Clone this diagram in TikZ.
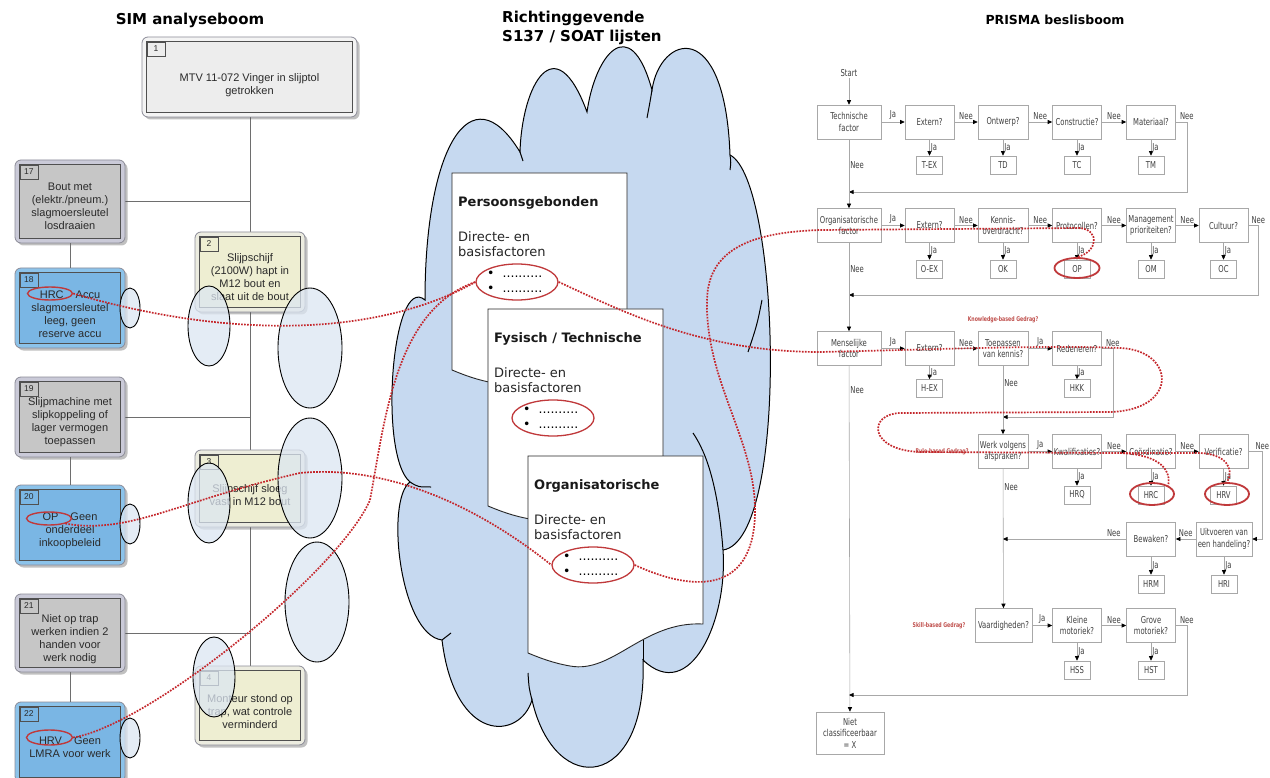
\documentclass[tikz,border=0pt]{standalone}
\usepackage{fontspec}
\setmainfont{DejaVu Sans}
\newfontfamily\arialf{Liberation Sans}
\newfontfamily\prismaf[FakeStretch=0.72]{DejaVu Sans}
\usetikzlibrary{shapes.geometric,arrows.meta,shadows}

% colours
\definecolor{simtext}{HTML}{2A2A2A}
\definecolor{frameedge}{HTML}{8C8C98}
\definecolor{inneredge}{HTML}{505050}
\definecolor{greyF}{HTML}{CACAD8}
\definecolor{greyI}{HTML}{C6C6C6}
\definecolor{blueF}{HTML}{8CC3EA}
\definecolor{blueI}{HTML}{7AB6E4}
\definecolor{yelF}{HTML}{ECECE0}
\definecolor{yelI}{HTML}{EEEED2}
\definecolor{litF}{HTML}{F4F4F4}
\definecolor{litI}{HTML}{EDEDED}
\definecolor{treeline}{HTML}{6E6E6E}
\definecolor{cloudblue}{HTML}{C6D9F0}
\definecolor{ellblue}{HTML}{DCE6F2}
\definecolor{ringred}{HTML}{C0393B}
\definecolor{dotred}{HTML}{C4262B}
\definecolor{pgray}{HTML}{A8A8A8}
\definecolor{ptext}{HTML}{404040}
\definecolor{gedragred}{HTML}{C0504D}

\tikzset{
  title/.style={font=\bfseries\fontsize{15}{19}\selectfont, text=black, inner sep=0},
  simframe/.style={draw=frameedge, line width=0.8pt, fill=#1F, rounded corners=6pt, inner sep=0,
    drop shadow={shadow xshift=2.5pt, shadow yshift=-2.5pt, opacity=0.35, fill=black!70}},
  siminner/.style={draw=inneredge, line width=0.8pt, fill=#1I},
  simnum/.style={draw=inneredge, line width=0.6pt, minimum width=18pt, minimum height=14pt,
    inner sep=1pt, font=\arialf\fontsize{8.5}{10}\selectfont, text=simtext},
  simtext/.style={font=\arialf\fontsize{11}{13}\selectfont, text=simtext, align=center, inner sep=0},
  treeedge/.style={draw=treeline, line width=0.8pt},
  cloudfill/.style={fill=cloudblue, draw=black, line width=1pt},
  cloudedge/.style={draw=black, line width=1pt},
  docline/.style={fill=white, draw=black!85, line width=0.9pt},
  doctitle/.style={font=\bfseries\fontsize{13}{15}\selectfont, text=black!90, anchor=west, inner sep=0},
  doctext/.style={font=\fontsize{13}{15.5}\selectfont, text=black!85, anchor=west, align=left, inner sep=0},
  docdots/.style={font=\fontsize{12.5}{15}\selectfont, text=black, anchor=west, align=left, inner sep=0},
  redring/.style={ellipse, draw=ringred, line width=1.3pt, inner sep=0, minimum width=82pt, minimum height=36pt},
  simring/.style={ellipse, draw=ringred, line width=1.4pt, inner sep=0},
  simell/.style={fill=ellblue, fill opacity=0.75, draw=black, line width=0.9pt},
  reddot/.style={draw=dotred, line width=1.7pt, dash pattern=on 1.7pt off 1.3pt},
  pbox/.style={draw=pgray, line width=0.6pt, fill=white, text=ptext, align=center, inner sep=1pt,
    font=\prismaf\fontsize{9.5}{11.5}\selectfont},
  qbox/.style={pbox, minimum width=49pt, minimum height=34pt},
  abox/.style={pbox, minimum width=26pt, minimum height=18pt},
  plbl/.style={font=\prismaf\fontsize{9.5}{10}\selectfont, text=ptext, inner sep=1pt},
  flow/.style={draw=pgray, line width=0.6pt, -{Triangle[length=4.5pt,width=4pt,black]}},
  gedrag/.style={font=\prismaf\bfseries\fontsize{6.5}{7}\selectfont, text=gedragred, inner sep=0},
}

% SIM tree box: name, colour scheme, x, y, width, height, number, text, text drop
\newcommand\simbox[9]{%
  \node[simframe=#2, minimum width=#5pt, minimum height=#6pt] (#1) at (#3,#4) {};
  \draw[siminner=#2] ([shift={(5pt,-5pt)}]#1.north west) rectangle ([shift={(-5pt,5pt)}]#1.south east);
  \node[simnum, anchor=north west] (#1n) at ([shift={(5pt,-5pt)}]#1.north west) {#7};
  \node[simtext] (#1t) at ([yshift=-#9pt]#1.center) {#8};
}

% list page with a wavy bottom edge: name, x, y, heading
\newcommand\docpage[4]{%
  \begin{scope}[shift={(#2,#3)}]
    \draw[docline] (0,0) -- (175,0) -- (175,168)
      .. controls (115,165) and (85,218) .. (42,210)
      .. controls (25,207) and (12,202) .. (0,197) -- cycle;
    \node[doctitle] (#1t) at (6,30) {#4};
    \node[doctext] (#1d) at (6,71) {Directe- en\\basisfactoren};
    \node[docdots] (#1l) at (35,108.5) {\textbullet\hspace{8pt}..........\\\textbullet\hspace{8pt}..........};
    \node[redring] (#1e) at (65,109) {};
  \end{scope}
}

\begin{document}
\begin{tikzpicture}[x=1pt, y=-1pt]
\useasboundingbox (0,0) rectangle (1270,778);
\clip (0,0) rectangle (1270,778);
\fill[white] (0,0) rectangle (1270,778);

% headings
\node[title] (h1) at (190,20) {SIM analyseboom};
\node[title, anchor=west, align=left] (h2) at (502,27.5) {Richtinggevende\\S137 / SOAT lijsten};
\node[title, font=\bfseries\fontsize{12.5}{15}\selectfont] (h3) at (1055,20) {PRISMA beslisboom};

% ---------------- SIM analysis tree ----------------
\coordinate (spine) at (250,117);
\coordinate (spineend) at (250,666);
\coordinate (c17) at (250,201.5);
\coordinate (c19) at (250,417);
\coordinate (c21) at (250,633);
\draw[treeedge] (spine) -- (spineend);
\draw[treeedge] (125,201.5) -- (c17);
\draw[treeedge] (125,417) -- (c19);
\draw[treeedge] (125,633) -- (c21);

\simbox{b1}{lit}{249.5}{77}{215}{80}{1}{MTV 11-072 Vinger in slijptol\\getrokken}{8}
\simbox{b17}{grey}{70}{201.5}{110}{83}{17}{Bout met\\(elektr./pneum.)\\slagmoersleutel\\losdraaien}{5}
\simbox{b2}{yel}{250}{272}{110}{80}{2}{Slijpschijf\\(2100W) hapt in\\M12 bout en\\slaat uit de bout}{5.5}
\simbox{b18}{blue}{70}{308}{110}{80}{18}{HRC\hspace{12pt}Accu\\slagmoersleutel\\leeg, geen\\reserve accu}{6.5}
\simbox{b19}{grey}{70}{417}{110}{80}{19}{Slijpmachine met\\slipkoppeling of\\lager vermogen\\toepassen}{5.5}
\simbox{b3}{yel}{250}{488.5}{110}{77}{3}{Slijpschijf sloeg\\vast in M12 bout}{6.5}
\simbox{b20}{blue}{70}{525}{110}{80}{20}{OP\hspace{12pt}Geen\\onderdeel\\inkoopbeleid}{6}
\simbox{b21}{grey}{70}{633}{110}{78}{21}{Niet op trap\\werken indien 2\\handen voor\\werk nodig}{6}
\simbox{b4}{yel}{250}{705.5}{110}{79}{4}{Monteur stond op\\trap, wat controle\\verminderd}{6.5}
\simbox{b22}{blue}{70}{742}{110}{80}{22}{HRV\hspace{12pt}Geen\\LMRA voor werk}{5}

\draw[treeedge] (b17.south) -- (b18.north);
\draw[treeedge] (b19.south) -- (b20.north);
\draw[treeedge] (b21.south) -- (b22.north);

% ---------------- cloud ----------------
\filldraw[cloudfill] (410,482)
  .. controls (378,455) and (392,272) .. (425,300)
  .. controls (425,150) and (470,70) .. (520,152)
  .. controls (522,85) and (555,25) .. (587,112)
  .. controls (595,55) and (630,10) .. (652,90)
  .. controls (660,35) and (725,15) .. (730,155)
  .. controls (780,180) and (790,540) .. (723,550)
  .. controls (728,620) and (690,705) .. (643,660)
  .. controls (648,790) and (555,800) .. (532,700)
  .. controls (520,740) and (455,745) .. (442,640)
  .. controls (400,635) and (385,500) .. (410,482) -- cycle;
% inner lobe hooks
\draw[cloudedge] (520,152) .. controls (522,156) .. (523,161);
\draw[cloudedge] (652,90) .. controls (650,102) .. (647,118);
\draw[cloudedge] (730,155) .. controls (731,162) .. (730,170);
\draw[cloudedge] (762,300) .. controls (757,325) .. (748,352);
\draw[cloudedge] (723,550) .. controls (718,485) and (706,452) .. (693,433);
\draw[cloudedge] (643,660) .. controls (643,650) .. (643,640);
\draw[cloudedge] (532,700) .. controls (529,688) .. (528,673);
\draw[cloudedge] (442,640) .. controls (446,636) .. (451,633);
\draw[cloudedge] (410,482) .. controls (418,487) .. (431,487);

% ---------------- list pages ----------------
\docpage{p}{452}{173}{Persoonsgebonden}
\docpage{f}{488}{309}{Fysisch / Technische}
\docpage{o}{528}{456}{Organisatorische}

% ---------------- PRISMA decision tree ----------------
\node[plbl] (start) at (849,73) {Start};
\coordinate (j1) at (849,192);
\coordinate (j2) at (849,295);
\coordinate (j3) at (849,695);
\coordinate (j4) at (1003,417);
\coordinate (j5) at (1003,539);

% row 1
\node[qbox, minimum width=64pt] (tf) at (849,122) {Technische\\factor};
\node[qbox] (t1) at (929.5,122) {Extern?};
\node[qbox, minimum width=50pt] (t2) at (1003,122) {Ontwerp?};
\node[qbox] (t3) at (1077,122) {Constructie?};
\node[qbox] (t4) at (1151,122) {Materiaal?};
\node[abox] (tex) at (929.5,165) {T-EX};
\node[abox] (td) at (1003,165) {TD};
\node[abox] (tc) at (1077,165) {TC};
\node[abox] (tm) at (1151,165) {TM};
% row 2
\node[qbox, minimum width=64pt] (of) at (849,225.5) {Organisatorische\\factor};
\node[qbox] (o1) at (929.5,225.5) {Extern?};
\node[qbox, minimum width=50pt] (o2) at (1003,225.5) {Kennis-\\overdracht?};
\node[qbox] (o3) at (1077,225.5) {Protocollen?};
\node[qbox] (o4) at (1151,225.5) {Management\\prioriteiten?};
\node[qbox] (o5) at (1223.5,225.5) {Cultuur?};
\node[abox] (oex) at (929.5,269) {O-EX};
\node[abox] (ok) at (1003,269) {OK};
\node[abox] (op) at (1077,269) {OP};
\node[abox] (om) at (1151,269) {OM};
\node[abox] (oc) at (1223.5,269) {OC};
% row 3
\node[qbox, minimum width=64pt] (mf) at (849,348.5) {Menselijke\\factor};
\node[qbox] (m1) at (929.5,348.5) {Extern?};
\node[qbox, minimum width=50pt] (m2) at (1003,348.5) {Toepassen\\van kennis?};
\node[qbox] (m3) at (1077,348.5) {Redeneren?};
\node[abox] (hex) at (929.5,388.5) {H-EX};
\node[abox] (hkk) at (1077,388.5) {HKK};
% row 4
\node[qbox, minimum width=50pt] (w0) at (1003,451.5) {Werk volgens\\afspraken?};
\node[qbox] (w1) at (1077,451.5) {Kwalificaties?};
\node[qbox] (w2) at (1151,451.5) {Coördinatie?};
\node[qbox] (w3) at (1223.5,451.5) {Verificatie?};
\node[abox] (hrq) at (1077,495) {HRQ};
\node[abox] (hrc) at (1151,495) {HRC};
\node[abox] (hrv) at (1223.5,495) {HRV};
% row 5
\node[qbox] (bw) at (1151,539) {Bewaken?};
\node[qbox, minimum width=56pt] (ui) at (1224,539) {Uitvoeren van\\een handeling?};
\node[abox] (hrm) at (1151,584) {HRM};
\node[abox] (hri) at (1224,584) {HRI};
% row 6
\node[qbox, minimum width=57pt] (va) at (1003.5,625.5) {Vaardigheden?};
\node[qbox] (kl) at (1077,625.5) {Kleine\\motoriek?};
\node[qbox] (gr) at (1151,625.5) {Grove\\motoriek?};
\node[abox] (hss) at (1077,670) {HSS};
\node[abox] (hst) at (1151,670) {HST};
% end box
\node[pbox, minimum width=68pt, minimum height=42pt] (nc) at (850,733) {Niet\\classificeerbaar\\= X};

% behaviour levels
\node[gedrag] (kbg) at (1003,320) {Knowledge-based Gedrag?};
\node[gedrag] (rbg) at (942,452) {Rule-based Gedrag?};
\node[gedrag] (sbg) at (939,626) {Skill-based Gedrag?};

% flow lines
\draw[flow] (start) -- (tf);
\draw[flow] (tf) -- node[plbl,above=1pt]{Ja} (t1);
\draw[flow] (t1) -- node[plbl,above=1pt]{Nee} (t2);
\draw[flow] (t2) -- node[plbl,above=1pt]{Nee} (t3);
\draw[flow] (t3) -- node[plbl,above=1pt]{Nee} (t4);
\draw[flow] (t4.east) -- ++(11pt,0) node[plbl,above=1pt]{Nee} |- (j1);
\draw[flow] (t1) -- node[plbl,right]{Ja} (tex);
\draw[flow] (t2) -- node[plbl,right]{Ja} (td);
\draw[flow] (t3) -- node[plbl,right]{Ja} (tc);
\draw[flow] (t4) -- node[plbl,right]{Ja} (tm);
\draw[flow] (tf) -- node[plbl,right,pos=0.38]{Nee} (of);

\draw[flow] (of) -- node[plbl,above=1pt]{Ja} (o1);
\draw[flow] (o1) -- node[plbl,above=1pt]{Nee} (o2);
\draw[flow] (o2) -- node[plbl,above=1pt]{Nee} (o3);
\draw[flow] (o3) -- node[plbl,above=1pt]{Nee} (o4);
\draw[flow] (o4) -- node[plbl,above=1pt]{Nee} (o5);
\draw[flow] (o5.east) -- ++(10pt,0) node[plbl,above=1pt]{Nee} |- (j2);
\draw[flow] (o1) -- node[plbl,right]{Ja} (oex);
\draw[flow] (o2) -- node[plbl,right]{Ja} (ok);
\draw[flow] (o3) -- node[plbl,right]{Ja} (op);
\draw[flow] (o4) -- node[plbl,right]{Ja} (om);
\draw[flow] (o5) -- node[plbl,right]{Ja} (oc);
\draw[flow] (of) -- node[plbl,right,pos=0.3]{Nee} (mf);

\draw[flow] (mf) -- node[plbl,above=1pt]{Ja} (m1);
\draw[flow] (m1) -- node[plbl,above=1pt]{Nee} (m2);
\draw[flow] (m2) -- node[plbl,above=1pt]{Ja} (m3);
\draw[flow] (m3.east) -- ++(11pt,0) node[plbl,above=1pt]{Nee} |- (j4);
\draw[flow] (m1) -- node[plbl,right]{Ja} (hex);
\draw[flow] (m3) -- node[plbl,right]{Ja} (hkk);
\draw[flow] (m2) -- node[plbl,right,pos=0.25]{Nee} (w0);
\draw[flow] (mf) -- node[plbl,right,pos=0.07]{Nee} (nc);

\draw[flow] (w0) -- node[plbl,above=1pt]{Ja} (w1);
\draw[flow] (w1) -- node[plbl,above=1pt]{Nee} (w2);
\draw[flow] (w2) -- node[plbl,above=1pt]{Nee} (w3);
\draw[flow] (w3.east) -- ++(14pt,0) node[plbl,above=1pt]{Nee} |- (ui.east);
\draw[flow] (w1) -- node[plbl,right]{Ja} (hrq);
\draw[flow] (w2) -- node[plbl,right]{Ja} (hrc);
\draw[flow] (w3) -- node[plbl,right]{Ja} (hrv);
\draw[flow] (w0) -- node[plbl,right,pos=0.13]{Nee} (va);

\draw[flow] (ui) -- node[plbl,above=1pt]{Nee} (bw);
\draw[flow] (bw.west) -- node[plbl,above=1pt,pos=0.1]{Nee} (j5);
\draw[flow] (bw) -- node[plbl,right]{Ja} (hrm);
\draw[flow] (ui) -- node[plbl,right]{Ja} (hri);

\draw[flow] (va) -- node[plbl,above=1pt]{Ja} (kl);
\draw[flow] (kl) -- node[plbl,above=1pt]{Nee} (gr);
\draw[flow] (gr.east) -- ++(11pt,0) node[plbl,above=1pt]{Nee} |- (j3);
\draw[flow] (kl) -- node[plbl,right]{Ja} (hss);
\draw[flow] (gr) -- node[plbl,right]{Ja} (hst);

% ---------------- translucent markers on the SIM tree ----------------
\draw[simell] (209,326) ellipse [x radius=21pt, y radius=40pt];
\draw[simell] (310,348) ellipse [x radius=32pt, y radius=60pt];
\draw[simell] (209,503) ellipse [x radius=21pt, y radius=40pt];
\draw[simell] (310,478) ellipse [x radius=32pt, y radius=60pt];
\draw[simell] (317,602) ellipse [x radius=32pt, y radius=60pt];
\draw[simell] (214,677) ellipse [x radius=21pt, y radius=40pt];
\draw[simell] (130,308) ellipse [x radius=10pt, y radius=20pt];
\draw[simell] (130,524) ellipse [x radius=10pt, y radius=20pt];
\draw[simell] (130,738) ellipse [x radius=10pt, y radius=20pt];

% ---------------- red rings ----------------
\node[simring, minimum width=45pt, minimum height=13pt] (rHRC) at (50,293.5) {};
\node[simring, minimum width=45pt, minimum height=13pt] (rOP) at (49,518.5) {};
\node[simring, minimum width=46pt, minimum height=15pt] (rHRV) at (49.5,737.5) {};
\node[simring, line width=1.8pt, minimum width=45pt, minimum height=20pt] (rOPp) at (1077,268) {};
\node[simring, line width=1.8pt, minimum width=44pt, minimum height=22pt] (rHRCp) at (1152,494) {};
\node[simring, line width=1.8pt, minimum width=44pt, minimum height=22pt] (rHRVp) at (1227,494) {};

% ---------------- dotted links ----------------
\coordinate (split) at (1120,453);
\draw[reddot] (rHRC.east) .. controls (250,345) and (390,330) .. (pe.west);
\draw[reddot] (rHRV.east) .. controls (150,725) and (340,570) .. (370,500)
  .. controls (385,420) and (395,310) .. (pe.west);
\draw[reddot] (rOP.south east) .. controls (130,535) and (180,500) .. (300,473)
  .. controls (380,465) and (470,500) .. (oe.west);
\draw[reddot] (pe.east) .. controls (620,310) and (700,352) .. (820,352)
  .. controls (950,349) and (1050,345) .. (1120,348)
  .. controls (1175,350) and (1180,410) .. (1110,412) -- (900,413)
  .. controls (868,414) and (868,450) .. (920,452) -- (split)
  .. controls (1170,455) and (1170,478) .. (rHRCp.north east);
\draw[reddot] (split) -- (1200,453) .. controls (1225,454) and (1235,468) .. (rHRVp.north);
\draw[reddot] (oe.east) .. controls (700,595) and (755,590) .. (755,510)
  .. controls (755,440) and (705,380) .. (707,300)
  .. controls (708,245) and (760,232) .. (820,230) -- (1080,228)
  .. controls (1100,230) and (1098,252) .. (rOPp.north);
\end{tikzpicture}
\end{document}
